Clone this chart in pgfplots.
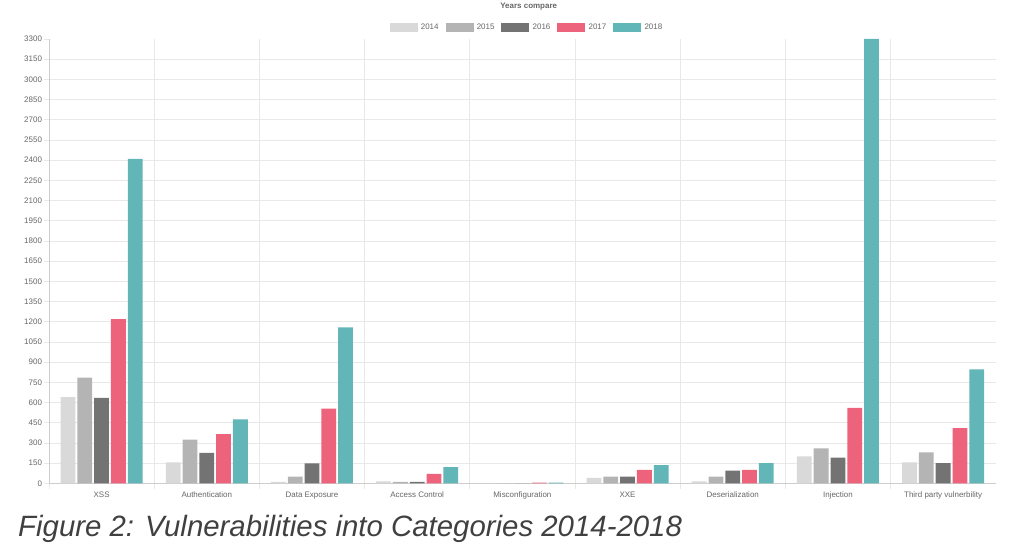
\documentclass[border=0pt]{standalone}
\usepackage{fontspec}
\setmainfont{Liberation Sans}
\usepackage{pgfplots}
\pgfplotsset{compat=1.18}
\definecolor{c2014}{RGB}{217,217,217}
\definecolor{c2015}{RGB}{180,180,180}
\definecolor{c2016}{RGB}{115,115,115}
\definecolor{c2017}{RGB}{237,99,123}
\definecolor{c2018}{RGB}{99,182,183}
\definecolor{gridc}{RGB}{232,232,232}
\definecolor{axisc}{RGB}{205,205,205}
\definecolor{labc}{RGB}{102,102,102}
\definecolor{capc}{RGB}{64,64,64}
\begin{document}
\begin{tikzpicture}[x=1bp,y=1bp]
\useasboundingbox (0,0) rectangle (1024,555);
\begin{axis}[
  at={(49bp,71.7bp)}, anchor=south west,
  scale only axis, width=946.7bp, height=444.3bp,
  ybar=2bp, bar width=14.8bp,
  xmin=-0.5, xmax=8.5, ymin=0, ymax=3300,
  axis lines*=left,
  axis line style={draw=axisc, line width=0.8bp},
  xtick={0,...,8},
  xticklabels={XSS,Authentication,Data Exposure,Access Control,Misconfiguration,XXE,Deserialization,Injection,Third party vulnerbility},
  minor xtick={-0.5,0.5,...,7.5},
  xminorgrids,
  ytick={0,150,...,3300},
  minor ytick={150,300,...,3150},
  yminorgrids,
  minor grid style={draw=gridc, line width=0.7bp},
  tick align=outside,
  major tick length=5bp, minor tick length=6bp,
  major x tick style={draw=none},
  minor x tick style={draw=gridc, line width=0.7bp},
  major y tick style={draw=gridc, line width=0.7bp},
  minor y tick style={draw=none},
  tick label style={font=\fontsize{8}{9.6}\selectfont, text=labc},
  y tick label style={/pgf/number format/1000 sep={}, xshift=1.5bp},
  /pgf/number format/assume math mode=true,
  legend columns=5,
  legend style={at={(0.5055,1.0259)}, anchor=center, draw=none, fill=none,
    font=\fontsize{8}{9.6}\selectfont, text=labc, inner sep=0pt,
    /tikz/every even column/.append style={column sep=3.8bp},
    nodes={inner xsep=3.2bp, inner ysep=0pt}},
  legend image code/.code={\fill[#1] (0bp,-4.5bp) rectangle (28bp,4.5bp);},
  clip=false,
]
\addplot[fill=c2014, draw=none] coordinates {(0,640) (1,155) (2,10) (3,15) (4,0) (5,40) (6,15) (7,200) (8,155)};
\addplot[fill=c2015, draw=none] coordinates {(0,785) (1,325) (2,50) (3,10) (4,0) (5,50) (6,50) (7,260) (8,230)};
\addplot[fill=c2016, draw=none] coordinates {(0,635) (1,225) (2,148) (3,10) (4,0) (5,50) (6,95) (7,190) (8,150)};
\addplot[fill=c2017, draw=none] coordinates {(0,1220) (1,365) (2,555) (3,70) (4,5) (5,100) (6,100) (7,560) (8,410)};
\addplot[fill=c2018, draw=none] coordinates {(0,2410) (1,475) (2,1158) (3,120) (4,5) (5,135) (6,150) (7,3300) (8,847)};
\legend{2014,2015,2016,2017,2018}
\end{axis}
\node[font=\bfseries\fontsize{8}{9.6}\selectfont, text=labc] at (528.7,548.5) {Years compare};
\node[anchor=base west, inner sep=0pt, font=\itshape\fontsize{29.5}{34}\selectfont, text=capc] at (18,18) {Figure 2: Vulnerabilities into Categories 2014-2018};
\end{tikzpicture}
\end{document}
